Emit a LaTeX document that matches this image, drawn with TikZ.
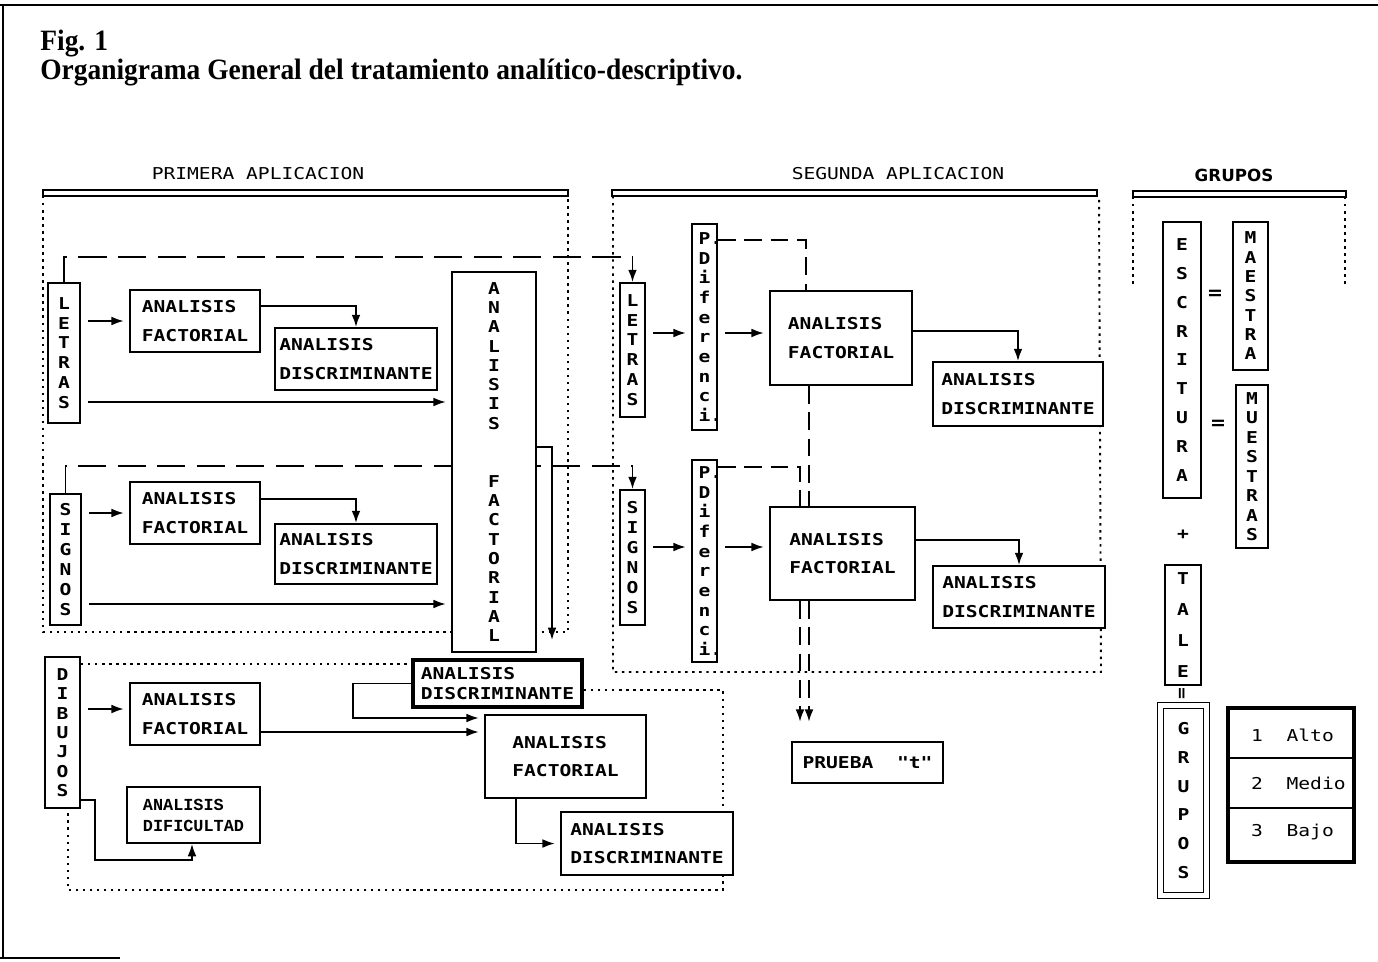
\documentclass[tikz,border=0pt]{standalone}
\usepackage{fontspec}
\setmainfont{Liberation Serif}
\newfontfamily\monofont{DejaVu Sans Mono}[FakeStretch=1.2]
\newfontfamily\titlefont{Liberation Serif}[FakeStretch=0.93]
\newfontfamily\typefont{Liberation Mono}
\newfontfamily\headsans{DejaVu Sans}
\newcommand\lbl{\monofont\bfseries\fontsize{9.3}{11}\selectfont}
\newcommand\hdr{\monofont\fontsize{9.3}{11}\selectfont}
\usetikzlibrary{arrows.meta,backgrounds}

\begin{document}
\begin{tikzpicture}[x=0.02cm,y=-0.02cm,
  >={Latex[length=7pt,width=5pt]},
  sz/.style 2 args={minimum width=#1cm,minimum height=#2cm},
  box/.style={draw,line width=1.1pt,fill=white,inner sep=0pt,align=left,
    font={\lbl\baselineskip=16.4pt}},
  vbox/.style={draw,line width=1.1pt,fill=white,inner sep=0pt,align=center,
    font={\lbl\baselineskip=#1}},
  arr/.style={->,line width=1pt},
  gap/.style={shorten <=4pt,shorten >=3pt},
  dashln/.style={line width=1pt,dash pattern=on 16pt off 6.5pt},
  dashsm/.style={line width=1pt,dash pattern=on 10pt off 5pt},
  dotln/.style={line width=1.1pt,dash pattern=on 1.4pt off 2.6pt},
  ]
  \useasboundingbox (0,0) rectangle (1378,961);

  % Title.
  \node[anchor=base west,inner sep=0pt,font=\titlefont\bfseries\fontsize{16.8}{18}\selectfont] (fig) at (40,50) {Fig. 1};
  \node[anchor=base west,inner sep=0pt,font=\titlefont\bfseries\fontsize{16.8}{18}\selectfont] (title) at (40,79)
    {Organigrama General del tratamiento analítico-descriptivo.};

  % Headers.
  \node[font=\hdr] (h1) at (258,174) {PRIMERA APLICACION};
  \node[font=\hdr] (h2) at (898,174) {SEGUNDA APLICACION};
  \node[font=\headsans\bfseries\fontsize{9.5}{11}\selectfont] (h3) at (1234,175) {GRUPOS};

  % Primera aplicacion.
  \node[vbox=11.3pt,sz={0.64}{2.8}] (let1) at (64,353) {L\\E\\T\\R\\A\\S};
  \node[box,sz={2.6}{1.24}] (af1) at (195,321) {ANALISIS\\FACTORIAL};
  \node[box,sz={3.24}{1.24}] (ad1) at (356,359) {ANALISIS\\DISCRIMINANTE};
  \node[vbox=11.3pt,sz={0.62}{2.62}] (sig1) at (65.5,559.5) {S\\I\\G\\N\\O\\S};
  \node[box,sz={2.6}{1.24}] (af2) at (195,513) {ANALISIS\\FACTORIAL};
  \node[box,sz={3.24}{1.2}] (ad2) at (356,554) {ANALISIS\\DISCRIMINANTE};
  \node[vbox=11pt,sz={1.68}{7.6}] (big) at (494,462)
    {A\\N\\A\\L\\I\\S\\I\\S\\ \\ \\F\\A\\C\\T\\O\\R\\I\\A\\L};

  % Segunda aplicacion.
  \node[vbox=11.3pt,sz={0.5}{2.68}] (let2) at (632.5,350) {L\\E\\T\\R\\A\\S};
  \node[vbox=11.2pt,sz={0.5}{4.12}] (pd1) at (704.5,327)
    {P\rlap{.}\\D\\i\\f\\e\\r\\e\\n\\c\\i\rlap{.}};
  \node[box,sz={2.84}{1.88}] (af3) at (841,338) {ANALISIS\\FACTORIAL};
  \node[box,sz={3.4}{1.28}] (ad3) at (1018,394) {ANALISIS\\DISCRIMINANTE};
  \node[vbox=11.3pt,sz={0.5}{2.7}] (sig2) at (632.5,557.5) {S\\I\\G\\N\\O\\S};
  \node[vbox=11.2pt,sz={0.5}{4.04}] (pd2) at (704.5,561)
    {P\rlap{.}\\D\\i\\f\\e\\r\\e\\n\\c\\i\rlap{.}};
  \node[box,sz={2.9}{1.86}] (af4) at (842.5,553.5) {ANALISIS\\FACTORIAL};
  \node[box,sz={3.44}{1.24}] (ad4) at (1019,597) {ANALISIS\\DISCRIMINANTE};
  \node[box,sz={3.02}{0.82}] (prueba) at (867.5,762.5) {PRUEBA\ \ "t"};

  % Dibujos.
  \node[vbox=11pt,sz={0.7}{3.02}] (dib) at (62.5,732.5) {D\\I\\B\\U\\J\\O\\S};
  \node[box,sz={2.66}{1.12},font={\typefont\bfseries\fontsize{9.6}{12}\selectfont\baselineskip=11.9pt}]
    (dif) at (193.5,815) {ANALISIS\\DIFICULTAD};
  \node[box,sz={2.6}{1.24}] (af5) at (195,714) {ANALISIS\\FACTORIAL};
  \node[box,sz={3.38}{0.94},line width=2.2pt,font={\lbl\baselineskip=11.4pt}] (ad5) at (497.5,683.5)
    {ANALISIS\\DISCRIMINANTE};
  \node[box,sz={3.22}{1.66}] (af6) at (565.5,756.5) {ANALISIS\\FACTORIAL};
  \node[box,sz={3.44}{1.26}] (ad6) at (647,843.5) {ANALISIS\\DISCRIMINANTE};

  % Grupos.
  \node[vbox=16.4pt,sz={0.76}{5.52}] (esc) at (1182,360) {E\\S\\C\\R\\I\\T\\U\\R\\A};
  \node[vbox=11pt,sz={0.7}{2.96}] (mae) at (1250.5,296) {M\\A\\E\\S\\T\\R\\A};
  \node[vbox=11.1pt,sz={0.64}{3.26}] (mue) at (1252,466.5) {M\\U\\E\\S\\T\\R\\A\\S};
  \node[vbox=17.7pt,sz={0.72}{2.4}] (tale) at (1183,625) {T\\A\\L\\E};
  \node[vbox=16.3pt,sz={0.92}{3.8},double,double distance=2.4pt,line width=0.9pt] (grp) at (1183.5,800.5)
    {G\\R\\U\\P\\O\\S};
  \node[font=\lbl\fontsize{11}{12}\selectfont] (eq1) at (1215,295) {=};
  \node[font=\lbl\fontsize{11}{12}\selectfont] (eq2) at (1218,425) {=};
  \node[font=\lbl] (plus) at (1183,535) {+};
  \node[font=\lbl,rotate=90] (eq3) at (1183,694) {=};
  \node[draw,line width=2pt,sz={2.52}{3.08}] (tab) at (1291,785) {};
  \node[anchor=west,font=\hdr] (r1) at (1245,735) {1\ \ Alto};
  \node[anchor=west,font=\hdr] (r2) at (1245,783) {2\ \ Medio};
  \node[anchor=west,font=\hdr] (r3) at (1245,832) {3\ \ Bajo};

  \begin{scope}[on background layer]
    % Frame and brackets.
    \draw[line width=1.2pt] (0,5) -- (1378,5);
    \draw[line width=1.2pt] (3,5) -- (3,958);
    \draw[line width=1.2pt] (0,958) -- (120,958);
    \draw[line width=0.9pt] (43,190) rectangle (568,196);
    \draw[line width=0.9pt] (612,190) rectangle (1097,196);
    \draw[line width=0.9pt] (1133,191) rectangle (1346,197);
    \draw[dotln] (43,196) -- (43,632) -- (568,632) -- (568,196);
    \draw[dotln] (613,196) -- (613,672) -- (1101,672) -- (1099,196);
    \draw[dotln] (1133,197) -- (1133,287);
    \draw[dotln] (1345,197) -- (1345,287);
    \draw[dotln] (dib.east |- 0,664) -- (ad5.west |- 0,664);
    \draw[dotln] (ad5.east |- 0,690) -- (723,690) -- (723,890) -- (68,890) -- (dib.south -| 68,0);
    \draw[line width=1.2pt] (tab.west |- 0,758) -- (tab.east |- 0,758);
    \draw[line width=1.2pt] (tab.west |- 0,808) -- (tab.east |- 0,808);

    % Primera aplicacion.
    \coordinate (d1) at (632.5,257);
    \coordinate (d2) at (632.5,466);
    \draw[dashln,->] (let1.north) |- (d1) -- (let2.north);
    \draw[dashln,->] (sig1.north) |- (d2) -- (sig2.north);
    \draw[arr,gap] (let1.east |- af1.west) -- (af1.west);
    \draw[arr] ([yshift=0.3cm]af1.east) -| (ad1.north);
    \draw[arr,gap] (let1.east |- 0,402) -- (big.west |- 0,402);
    \draw[arr,gap] (sig1.east |- af2.west) -- (af2.west);
    \draw[arr] ([yshift=0.28cm]af2.east) -| (ad2.north);
    \draw[arr,gap] (sig1.east |- 0,604) -- (big.west |- 0,604);
    \coordinate (bo) at (552,640);
    \draw[arr] (big.east |- 0,447) -| (bo);

    % Segunda aplicacion.
    \draw[arr,gap] (let2.east |- 0,333) -- (pd1.west |- 0,333);
    \draw[arr,gap] (pd1.east |- 0,333) -- (af3.west |- 0,333);
    \draw[arr] (af3.east |- 0,331) -| (ad3.north);
    \draw[arr,gap] (sig2.east |- 0,547) -- (pd2.west |- 0,547);
    \draw[arr,gap] (pd2.east |- 0,547) -- (af4.west |- 0,547);
    \draw[arr] (af4.east |- 0,540) -| (ad4.north);
    \draw[dashsm] (pd1.east |- 0,240) -| (af3.north -| 806,0);
    \draw[dashsm] (af3.south -| 809,0) -- (af4.north -| 809,0);
    \draw[dashsm,->,shorten >=11pt] (af4.south -| 809,0) -- (prueba.north -| 809,0);
    \draw[dashsm] (pd2.east |- 0,467) -| (af4.north -| 800,0);
    \draw[dashsm,->,shorten >=11pt] (af4.south -| 800,0) -- (prueba.north -| 800,0);

    % Dibujos.
    \draw[arr,gap] (dib.east |- 0,709) -- (af5.west |- 0,709);
    \draw[arr,shorten >=3pt] (ad5.west) -- ++(-58,0) |- (af6.west |- 0,718);
    \draw[arr,shorten >=3pt] (af5.east |- 0,732) -- (af6.west |- 0,732);
    \draw[arr,shorten >=3pt] (af6.south -| 516,0) |- (ad6.west);
    \draw[arr] (dib.east |- 0,800) -| (95,860) -| (dif.south -| 192,0);
  \end{scope}
\end{tikzpicture}
\end{document}
